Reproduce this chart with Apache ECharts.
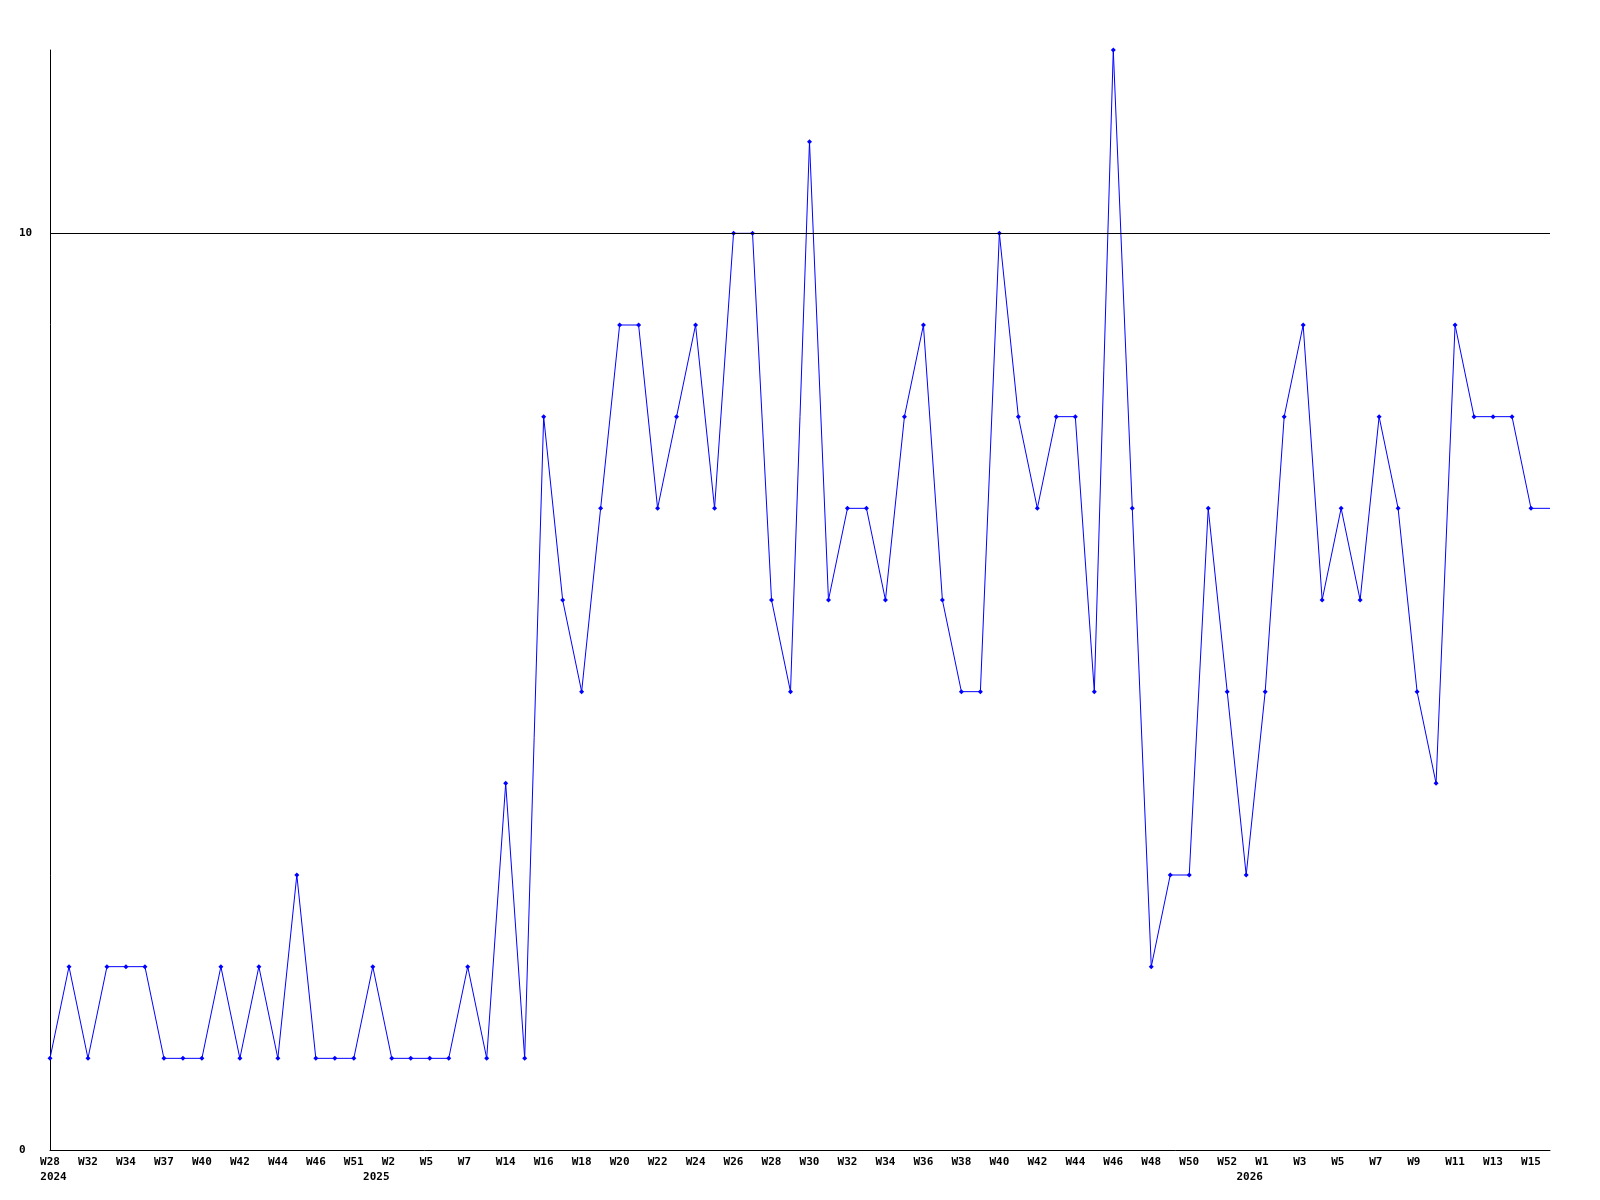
<!DOCTYPE html>
<html>
<head>
<meta charset="utf-8">
<script src="https://cdn.jsdelivr.net/npm/echarts@6/dist/echarts.min.js"></script>
<style>html,body{margin:0;padding:0;background:#fff}#c{width:1600px;height:1200px}</style>
</head>
<body>
<div id="c"></div>
<script>
// Week categories (only every other label is printed on the axis)
const weeks = [
  'W28','W30','W32','W33','W34','W35','W37','W38','W40','W41',
  'W42','W43','W44','W45','W46','W48','W51','W1','W2','W4',
  'W5','W6','W7','W10','W14','W15','W16','W17','W18','W19',
  'W20','W21','W22','W23','W24','W25','W26','W27','W28','W29',
  'W30','W31','W32','W33','W34','W35','W36','W37','W38','W39',
  'W40','W41','W42','W43','W44','W45','W46','W47','W48','W49',
  'W50','W51','W52','W0','W1','W2','W3','W4','W5','W6',
  'W7','W8','W9','W10','W11','W12','W13','W14','W15','W16'
];
// Year markers: category index where the year label is printed
const yearIndex = [0, 17, 63];
const yearText = ['2024', '2025', '2026'];
// Series values
const values = [
  1,2,1,2,2,2,1,1,1,2,
  1,2,1,3,1,1,1,2,1,1,
  1,1,2,1,4,1,8,6,5,7,
  9,9,7,8,9,7,10,10,6,5,
  11,6,7,7,6,8,9,6,5,5,
  10,8,7,8,8,5,12,7,2,3,
  3,7,5,3,5,8,9,6,7,6,
  8,7,5,4,9,8,8,8,7,7
];
// Y axis tick values shown
const yTicks = [0, 10];
const yMax = 12;
const refLine = 10;

const chart = echarts.init(document.getElementById('c'), null, {renderer: 'canvas'});
const font = 'DejaVu Sans Mono';
const seriesData = values.map((v, i) => i === values.length - 1 ? {value: v, symbol: 'none'} : v);

chart.setOption({
  animation: false,
  backgroundColor: '#ffffff',
  grid: {left: 50, right: 50, top: 50, bottom: 50, containLabel: false},
  xAxis: {
    type: 'category',
    data: weeks,
    boundaryGap: false,
    axisLine: {show: true, lineStyle: {color: '#000', width: 1}},
    axisTick: {show: false},
    splitLine: {show: false},
    axisLabel: {
      interval: 0,
      margin: 5,
      color: '#000',
      fontFamily: font,
      fontWeight: 'bold',
      fontSize: 11,
      lineHeight: 15,
      formatter: function (value, index) {
        let w = index % 2 === 0 ? value.padEnd(3, ' ') : ' ';
        const yi = yearIndex.indexOf(index);
        let s = '{w|' + w + '}';
        if (yi >= 0) s += '\n{y|' + yearText[yi] + '}';
        return s;
      },
      rich: {
        w: {fontFamily: font, fontWeight: 'bold', fontSize: 11, lineHeight: 15, color: '#000'},
        y: {fontFamily: font, fontWeight: 'bold', fontSize: 11, lineHeight: 15, color: '#000', padding: [0, 0, 0, 7]}
      }
    }
  },
  yAxis: {
    type: 'value',
    min: 0,
    max: yMax,
    interval: 10,
    axisLine: {show: true, lineStyle: {color: '#000', width: 1}},
    axisTick: {show: false},
    splitLine: {show: false},
    axisLabel: {
      showMaxLabel: false,
      align: 'left',
      margin: 31,
      color: '#000',
      fontFamily: font,
      fontWeight: 'bold',
      fontSize: 11,
      formatter: function (v) { return yTicks.indexOf(v) >= 0 ? String(v) : ''; }
    }
  },
  series: [{
    type: 'line',
    data: seriesData,
    symbol: 'diamond',
    symbolSize: 5,
    showSymbol: true,
    showAllSymbol: true,
    smooth: false,
    lineStyle: {color: '#0000ff', width: 1},
    itemStyle: {color: '#0000ff', borderWidth: 0},
    emphasis: {disabled: true},
    markLine: {
      silent: true,
      symbol: 'none',
      animation: false,
      label: {show: false},
      lineStyle: {color: '#000', width: 1, type: 'solid'},
      emphasis: {disabled: true},
      data: [{yAxis: refLine}]
    }
  }]
});
</script>
</body>
</html>
